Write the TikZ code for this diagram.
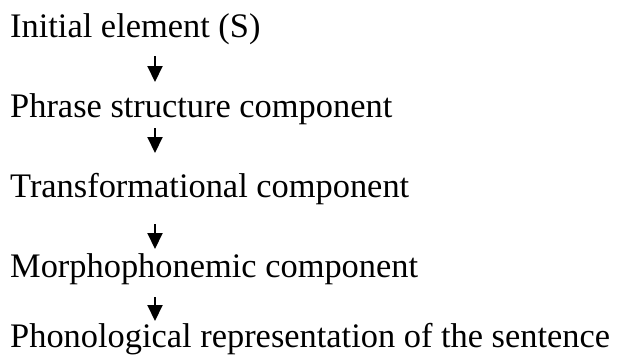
\documentclass[tikz,border=0pt]{standalone}
\usepackage{fontspec}
\setmainfont{Liberation Serif}
\usetikzlibrary{arrows.meta}
\begin{document}
\begin{tikzpicture}[x=1pt,y=-1pt,
  stage/.style={anchor=base west,inner sep=0pt,font=\fontsize{34.4}{40}\selectfont},
  flow/.style={line width=2pt,-{Triangle[length=16pt,width=15pt]}}]
\useasboundingbox (0,0) rectangle (619,360);

\node[stage] (s1) at (10,37)  {Initial element (S)};
\node[stage] (s2) at (10,117) {Phrase structure component};
\node[stage] (s3) at (10,197) {Transformational component};
\node[stage] (s4) at (10,277) {Morphophonemic component};
\node[stage] (s5) at (10,347) {Phonological representation of the sentence};

\draw[flow] ([shift={(145,19)}]s1.base west) -- ([shift={(145,-35)}]s2.base west);
\draw[flow] ([shift={(145,11)}]s2.base west) -- ([shift={(145,-44)}]s3.base west);
\draw[flow] ([shift={(145,27)}]s3.base west) -- ([shift={(145,-28)}]s4.base west);
\draw[flow] ([shift={(145,20)}]s4.base west) -- ([shift={(145,-26)}]s5.base west);
\end{tikzpicture}
\end{document}
